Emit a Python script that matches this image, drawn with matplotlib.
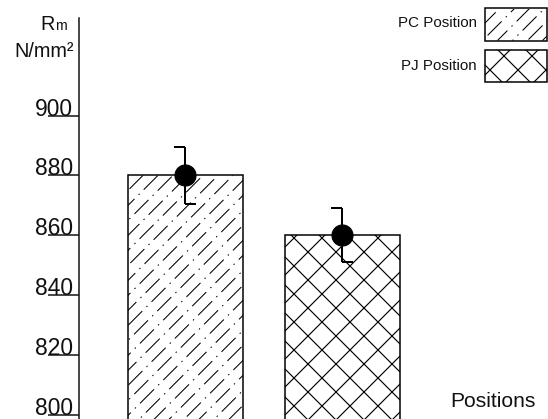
import matplotlib
matplotlib.use("Agg")
import matplotlib.pyplot as plt
from matplotlib.collections import LineCollection
from matplotlib.patches import Rectangle
from matplotlib.transforms import IdentityTransform

# ---- data -------------------------------------------------------------
positions = ["PC Position", "PJ Position"]
rm_mean = [880, 860]          # tensile strength Rm, N/mm^2
rm_err = [9.5, 9.0]           # +/- deviation
yticks = [800, 820, 840, 860, 880, 900]
y_limits = (798.5, 932.7)
x_limits = (-0.678, 2.309)
bar_width = 0.733

plt.rcParams["font.family"] = ["Liberation Sans", "DejaVu Sans"]
plt.rcParams["hatch.linewidth"] = 1.0
plt.rcParams["lines.scale_dashes"] = False

DPI = 84
W, H = 548, 419
fig = plt.figure(figsize=(W / DPI, H / DPI), dpi=DPI)
fig.patch.set_facecolor("white")

# axes box: left spine at x=79 px, top of spine at y=18 px, bottom = figure edge
ax = fig.add_axes([79 / W, 0.0, 1 - 79 / W, 1 - 18 / H])
ax.set_xlim(*x_limits)
ax.set_ylim(*y_limits)

for side in ("top", "right", "bottom"):
    ax.spines[side].set_visible(False)
ax.spines["left"].set_linewidth(1.3)
ax.spines["left"].set_color("#111111")

ax.set_xticks([])
ax.set_yticks(yticks)
ax.set_yticklabels([str(v) for v in yticks])
px = 72 / DPI
ax.tick_params(axis="y", direction="out", length=31 * px, width=1.3,
               color="#111111", pad=-25 * px, labelsize=19.5,
               labelcolor="#111111")
for lbl in ax.get_yticklabels():
    lbl.set_verticalalignment("baseline")

x = list(range(len(positions)))
bars = ax.bar(x, [m - y_limits[0] + 10 for m in rm_mean], bottom=y_limits[0] - 10,
              width=bar_width, facecolor="white", edgecolor="black",
              linewidth=1.3, zorder=2)
bars[1].set_hatch("x")


def dashdot_hatch(patch, parent, step=15.0, zorder=2.5):
    """Fill a patch with 45-degree dash-dot lines, clipped to the patch."""
    bb = patch.get_window_extent()
    x0, y0, x1, y1 = bb.x0, bb.y0, bb.x1, bb.y1
    h = y1 - y0
    segs, styles = [], []
    c = x0 - h
    k = 0
    while c < x1 + step:
        segs.append([(c, y0), (c + h, y1)])
        styles.append(((k * 11) % 28, (17, 5, 1.2, 5)))
        c += step
        k += 1
    lc = LineCollection(segs, colors="black", linewidths=0.9,
                        linestyles=styles, transform=IdentityTransform(),
                        zorder=zorder)
    if hasattr(parent, "add_collection"):
        parent.add_collection(lc, autolim=False)
    else:
        parent.add_artist(lc)
    lc.set_clip_path(patch)
    return lc


dashdot_hatch(bars[0], ax)

# error bars: line through the mean, half caps (upper to the left, lower to the right)
cap = 0.07
lo = [m - e for m, e in zip(rm_mean, rm_err)]
hi = [m + e for m, e in zip(rm_mean, rm_err)]
ax.vlines(x, lo, hi, color="black", linewidth=1.7, zorder=4)
ax.hlines(hi, [xi - cap for xi in x], x, color="black", linewidth=1.7, zorder=4)
ax.hlines(lo, x, [xi + cap for xi in x], color="black", linewidth=1.7, zorder=4)
ax.plot(x, rm_mean, "o", markersize=18, color="black", zorder=5)

# axis titles
fig.text(54.5 / W, 1 - 30.5 / H, "R", ha="right", va="baseline",
         fontsize=17, color="#111111")
fig.text(67 / W, 1 - 30.5 / H, "m", ha="right", va="baseline",
         fontsize=12, color="#111111")
fig.text(74 / W, 1 - 57 / H, "N/mm\u00b2", ha="right", va="baseline",
         fontsize=17, color="#111111")

ax.set_xlabel("Positions", fontsize=18, color="#111111")
ax.xaxis.label.set_verticalalignment("baseline")
ax.xaxis.set_label_coords((493 - 79) / (W - 79), (H - 406.7) / (H - 18))

# legend
leg_boxes = [(1 - 40.5 / H), (1 - 82 / H)]
leg_text_y = [1 - 27.3 / H, 1 - 70 / H]
box_x, box_w, box_h = 484.5 / W, 62 / W, 32 / H
for i, name in enumerate(positions):
    fig.text(476.7 / W, leg_text_y[i], name, ha="right", va="baseline",
             fontsize=13, color="#111111")
    r = Rectangle((box_x, leg_boxes[i]), box_w, box_h, transform=fig.transFigure,
                  facecolor="white", edgecolor="black", linewidth=1.3,
                  hatch="x" if i == 1 else None, zorder=2)
    fig.add_artist(r)
    if i == 0:
        dashdot_hatch(r, fig, zorder=2.5)

fig.savefig("out.png", dpi=DPI)
